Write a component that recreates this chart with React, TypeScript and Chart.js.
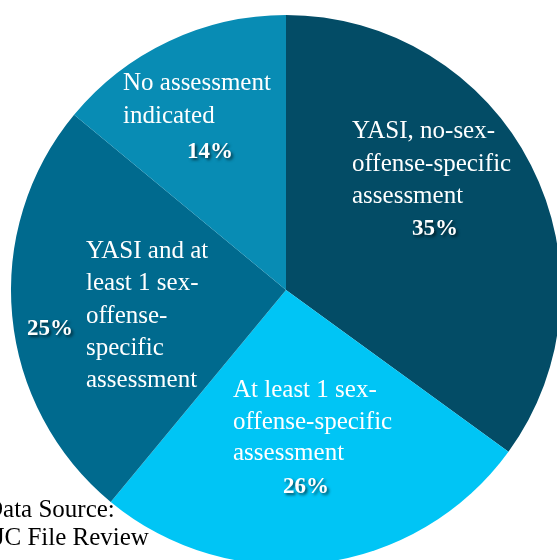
import React, { useEffect, useRef } from "react";
import { Chart, registerables } from "chart.js";

Chart.register(...registerables);

const categories = [
  "YASI, no-sex-offense-specific assessment",
  "At least 1 sex-offense-specific assessment",
  "YASI and at least 1 sex-offense-specific assessment",
  "No assessment indicated",
];
const values = [35, 26, 25, 14];
const colors = ["#034c66", "#00c5f5", "#006a8e", "#088cb4"];

// label text lines per slice
const labelLines = [
  ["YASI, no-sex-", "offense-specific", "assessment"],
  ["At least 1 sex-", "offense-specific", "assessment"],
  ["YASI and at", "least 1 sex-", "offense-", "specific", "assessment"],
  ["No assessment", "indicated"],
];
const sourceLines = ["Data Source:", "JJC File Review"];

const FAMILY = '"Liberation Serif", "DejaVu Serif", serif';

export default function App() {
  const ref = useRef<HTMLCanvasElement | null>(null);

  useEffect(() => {
    if (!ref.current) return;
    document.body.style.overflow = "hidden";
    const textPlugin = {
      id: "sliceText",
      afterDraw(chart: any) {
        const ctx = chart.ctx as CanvasRenderingContext2D;
        ctx.save();
        const font = "25px " + FAMILY;
        const bold = "bold 23px " + FAMILY;
        ctx.textBaseline = "alphabetic";
        const pos = [
          [352, 138, 32.5, 435, 235],
          [233, 397, 31.5, 306, 493],
          [86, 258, 32.3, 50, 335],
          [123, 90, 33, 210, 158],
        ];
        labelLines.forEach((lines, i) => {
          const [x, y0, lh, px, py] = pos[i];
          ctx.fillStyle = "#ffffff";
          ctx.font = font;
          ctx.textAlign = "left";
          ctx.shadowColor = "transparent";
          lines.forEach((t, j) => ctx.fillText(t, x, y0 + j * lh));
          ctx.font = bold;
          ctx.textAlign = "center";
          ctx.shadowColor = "rgba(0,0,0,0.6)";
          ctx.shadowOffsetX = 2;
          ctx.shadowOffsetY = 2;
          ctx.shadowBlur = 3;
          ctx.fillText(values[i] + "%", px, py);
          ctx.shadowColor = "transparent";
          ctx.shadowOffsetX = 0;
          ctx.shadowOffsetY = 0;
          ctx.shadowBlur = 0;
        });
        ctx.fillStyle = "#000000";
        ctx.font = font;
        ctx.textAlign = "left";
        ctx.fillText(sourceLines[0], -15, 517);
        ctx.fillText(sourceLines[1], -15, 545);
        ctx.restore();
      },
    };
    const chart = new Chart(ref.current, {
      type: "pie",
      data: {
        labels: categories,
        datasets: [
          {
            data: values,
            backgroundColor: colors,
            borderWidth: 0,
          },
        ],
      },
      options: {
        responsive: false,
        animation: false,
        devicePixelRatio: 1,
        layout: { padding: { left: 11, top: 15, right: 11, bottom: 15 } },
        plugins: {
          legend: { display: false },
          tooltip: { enabled: false },
        },
      },
      plugins: [textPlugin],
    });
    let alive = true;
    Promise.all([
      document.fonts.load("25px \"Liberation Serif\""),
      document.fonts.load("bold 23px \"Liberation Serif\""),
    ]).then(() => {
      if (alive) chart.update();
    });
    return () => {
      alive = false;
      chart.destroy();
    };
  }, []);

  return (
    <div
      style={{
        position: "fixed",
        left: 0,
        top: 0,
        width: 557,
        height: 560,
        overflow: "hidden",
        background: "#ffffff",
        fontFamily: FAMILY,
      }}
    >
      <canvas
        ref={ref}
        width={572}
        height={580}
        style={{ display: "block", width: 572, height: 580 }}
      />
    </div>
  );
}
